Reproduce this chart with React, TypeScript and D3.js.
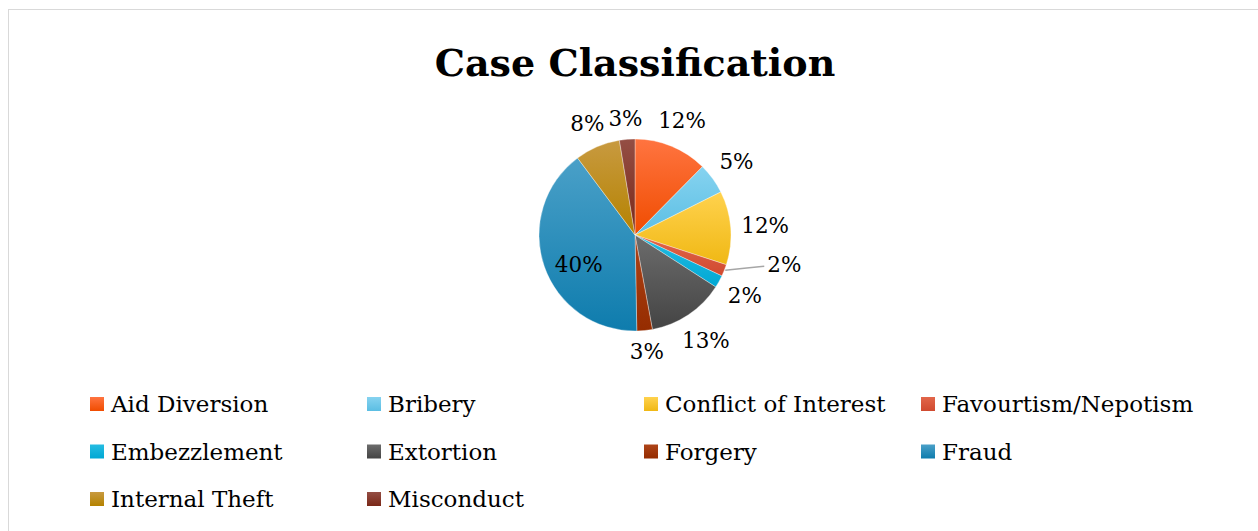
import React from "react";
import * as d3 from "d3";

// ---- data ----
const title = "Case Classification";
const categories = [
  "Aid Diversion",
  "Bribery",
  "Conflict of Interest",
  "Favourtism/Nepotism",
  "Embezzlement",
  "Extortion",
  "Forgery",
  "Fraud",
  "Internal Theft",
  "Misconduct",
];
const shares = [12.4, 5.2, 12.4, 2.0, 2.1, 13.0, 2.6, 40.1, 7.6, 2.6];
const colorsLight = [
  "#FF7440", "#86D3F0", "#FFD24E", "#E2664A", "#25BCE2",
  "#6C6C6C", "#AE4418", "#4AA0C8", "#C89A40", "#944E44",
];
const colorsDark = [
  "#F04C00", "#5BBEE3", "#F0B814", "#D04A30", "#00A8D4",
  "#444444", "#952C00", "#0E7CAD", "#B48200", "#7A2818",
];

// ---- layout ----
const WIDTH = 1258;
const HEIGHT = 531;
const CX = 635;
const CY = 235;
const R = 96;
const LABEL_FONT = 21.5;
const LEGEND_FONT = 23;
const FONT = "'DejaVu Serif', 'Liberation Serif', serif";

function textWidth(s: string, size: number) {
  let w = 0;
  for (const ch of s) w += ch === "%" ? 0.946 : 0.636;
  return w * size;
}

export default function App() {
  const total = d3.sum(shares);
  const pie = d3
    .pie<number>()
    .sort(null)
    .value((d) => d)
    .startAngle(0)
    .endAngle(2 * Math.PI);
  const arcs = pie(shares);
  const arc = d3.arc<d3.PieArcDatum<number>>().innerRadius(0).outerRadius(R);

  const pct = d3.scaleLinear().domain([0, total]).range([0, 100]);

  // label placement: outside end, best fit inside for the big slice
  const gap = 10;
  const h = LABEL_FONT * 0.9;
  type Lab = {
    text: string; x: number; y: number; w: number; a: number; i: number;
    inside: boolean; leader: boolean;
  };
  const labels: Lab[] = arcs.map((d, i) => {
    const text = `${Math.round(pct(d.value))}%`;
    const a = (d.startAngle + d.endAngle) / 2;
    const w = textWidth(text, LABEL_FONT);
    const s = Math.sin(a), c = -Math.cos(a);
    if (pct(d.value) > 30) {
      const rr = R * 0.62;
      return { text, x: CX + rr * s, y: CY - rr * Math.cos(a) + 10, w, a, i, inside: true, leader: false };
    }
    const rr = R + gap + Math.abs(s) * w / 2 + Math.abs(c) * h / 2;
    return { text, x: CX + rr * s, y: CY + rr * c, w, a, i, inside: false, leader: false };
  });
  const overlap = (p: Lab, q: Lab) =>
    Math.abs(p.x - q.x) < (p.w + q.w) / 2 && Math.abs(p.y - q.y) < h;
  for (let i = 0; i < labels.length; i++) {
    for (let j = i + 1; j < labels.length; j++) {
      const p = labels[i], q = labels[j];
      if (p.inside || q.inside || p.leader || q.leader) continue;
      if (overlap(p, q)) {
        const small = shares[p.i] <= shares[q.i] ? p : q;
        small.leader = true;
      }
    }
  }

  const legendX0 = 90;
  const legendColW = 277;
  const legendY0 = 404;
  const legendRowH = 47.5;
  const cols = 4;

  return (
    <div style={{ position: "absolute", left: 0, top: 0 }}>
      <svg width={WIDTH} height={HEIGHT} style={{ display: "block" }}>
        <defs>
          {categories.map((c, i) => (
            <linearGradient key={c} id={`g${i}`} x1="0" y1="0" x2="0" y2="1">
              <stop offset="0" stopColor={colorsLight[i]} />
              <stop offset="1" stopColor={colorsDark[i]} />
            </linearGradient>
          ))}
        </defs>
        <rect x={0} y={0} width={WIDTH} height={HEIGHT} fill="#fff" />
        <rect x={8.5} y={9.5} width={1300} height={600} fill="#fff" stroke="#D9D9D9" strokeWidth={1} />
        <text
          x={CX}
          y={76}
          textAnchor="middle"
          fontFamily={FONT}
          fontWeight="bold"
          fontSize={38}
          fill="#000"
        >
          {title}
        </text>
        <g transform={`translate(${CX},${CY})`}>
          {arcs.map((d, i) => (
            <path
              key={categories[i]}
              d={arc(d) || ""}
              fill={`url(#g${i})`}
              stroke="#ffffff"
              strokeOpacity={0.45}
              strokeWidth={0.75}
            />
          ))}
        </g>
        {labels.map((l) => {
          if (l.leader) {
            const x0 = CX + R * Math.sin(l.a);
            const y0 = CY - R * Math.cos(l.a);
            const x1 = x0 + 40;
            const y1 = y0 - 4;
            return (
              <g key={l.i}>
                <polyline
                  points={`${x0 + 1},${y0} ${x0 + 20},${y0 - 2} ${x1},${y1}`}
                  fill="none"
                  stroke="#A6A6A6"
                  strokeWidth={1.5}
                />
                <text
                  x={x1 + 3}
                  y={y1 - 2}
                  dy="0.35em"
                  fontFamily={FONT}
                  fontSize={LABEL_FONT}
                  fill="#000"
                >
                  {l.text}
                </text>
              </g>
            );
          }
          return (
            <text
              key={l.i}
              x={l.x}
              y={l.y}
              dy="0.35em"
              textAnchor="middle"
              fontFamily={FONT}
              fontSize={LABEL_FONT}
              fill="#000"
            >
              {l.text}
            </text>
          );
        })}
        {categories.map((c, i) => {
          const col = i % cols;
          const row = Math.floor(i / cols);
          const x = legendX0 + col * legendColW;
          const y = legendY0 + row * legendRowH;
          return (
            <g key={c}>
              <rect x={x} y={y - 7} width={14} height={14} fill={`url(#g${i})`} />
              <text
                x={x + 21}
                y={y}
                dy="0.35em"
                fontFamily={FONT}
                fontSize={LEGEND_FONT}
                fill="#000"
              >
                {c}
              </text>
            </g>
          );
        })}
      </svg>
    </div>
  );
}
